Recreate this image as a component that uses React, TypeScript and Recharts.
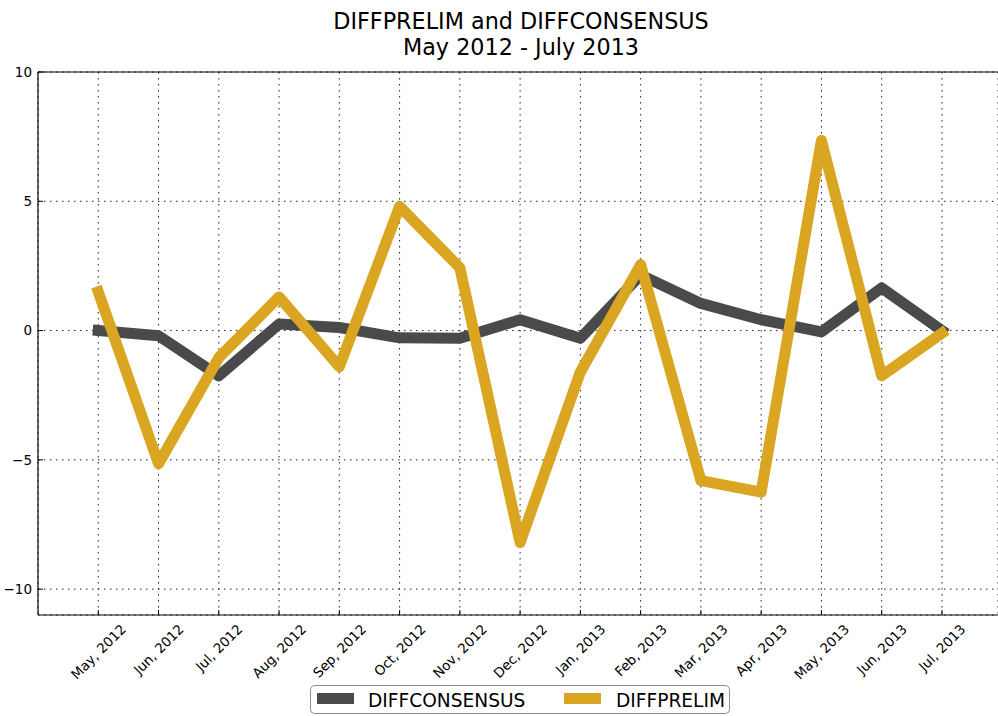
import { CartesianGrid, Line, LineChart, XAxis, YAxis } from "recharts";

const months = [
  "May, 2012", "Jun, 2012", "Jul, 2012", "Aug, 2012", "Sep, 2012",
  "Oct, 2012", "Nov, 2012", "Dec, 2012", "Jan, 2013", "Feb, 2013",
  "Mar, 2013", "Apr, 2013", "May, 2013", "Jun, 2013", "Jul, 2013",
];
const diffConsensus = [0.0, -0.2, -1.75, 0.25, 0.12, -0.28, -0.3, 0.42, -0.3, 2.15, 1.05, 0.42, -0.05, 1.65, 0.0];
const diffPrelim = [1.5, -5.15, -1.05, 1.3, -1.4, 4.8, 2.43, -8.2, -1.6, 2.55, -5.8, -6.25, 7.35, -1.75, -0.1];
const yTicks = [-10, -5, 0, 5, 10];

const data = months.map((m, i) => ({
  idx: i,
  month: m,
  DIFFCONSENSUS: diffConsensus[i],
  DIFFPRELIM: diffPrelim[i],
}));

const FONT = "'DejaVu Sans', sans-serif";
const DARK = "#4a4a4a";
const GOLD = "#daa520";
const TICK_FS = 13.5;

let ctx: CanvasRenderingContext2D | null = null;
function textWidth(s: string, size: number) {
  if (!ctx) ctx = document.createElement("canvas").getContext("2d");
  if (!ctx) return s.length * size * 0.6;
  ctx.font = `${size}px 'DejaVu Sans'`;
  return ctx.measureText(s).width;
}

// matplotlib style rotated label: bbox centered on the tick, top at axis + pad
function MonthTick(props: any) {
  const { x, payload } = props;
  const label = months[payload.value] ?? "";
  const w = textWidth(label, TICK_FS);
  const h = TICK_FS * 1.16;
  const bh = (w + h) * Math.SQRT1_2;
  const cx = x;
  const cy = 621 + bh / 2;
  return (
    <text
      x={cx}
      y={cy}
      textAnchor="middle"
      dominantBaseline="central"
      fontSize={TICK_FS}
      fontFamily={FONT}
      fill="#000"
      transform={`rotate(-45 ${cx} ${cy})`}
    >
      {label}
    </text>
  );
}

const fmtY = (v: number) => (v < 0 ? "\u2212" + Math.abs(v) : String(v));

export default function App() {
  return (
    <div style={{ position: "absolute", left: 0, top: 0, width: 998, height: 716, background: "#fff" }}>
      <LineChart
        width={998}
        height={716}
        data={data}
        margin={{ top: 71, right: 0, left: 0, bottom: 31 }}
      >
        <CartesianGrid stroke="#222" strokeDasharray="1.5 4.5" strokeWidth={1} />
        <XAxis
          dataKey="idx"
          type="number"
          domain={[-1, 14.93]}
          ticks={months.map((_, i) => i)}
          interval={0}
          height={70}
          axisLine={{ stroke: "#000", strokeWidth: 1.2 }}
          tickLine={{ stroke: "#000" }}
          tickSize={-5}
          tickMargin={8}
          tick={<MonthTick />}
          allowDataOverflow
        />
        <XAxis
          xAxisId="top"
          dataKey="idx"
          type="number"
          orientation="top"
          domain={[-1, 14.93]}
          ticks={months.map((_, i) => i)}
          interval={0}
          height={1}
          axisLine={{ stroke: "#000", strokeWidth: 1.2 }}
          tickLine={{ stroke: "#000" }}
          tickSize={-5}
          tick={false}
          allowDataOverflow
        />
        <YAxis
          type="number"
          domain={[-11, 10]}
          ticks={yTicks}
          interval={0}
          width={38}
          axisLine={{ stroke: "#000", strokeWidth: 1.2 }}
          tickLine={{ stroke: "#000" }}
          tickSize={-5}
          tickMargin={11}
          tickFormatter={fmtY}
          tick={{ fontSize: TICK_FS, fontFamily: FONT, fill: "#000" }}
          allowDataOverflow
        />
        <Line
          type="linear"
          dataKey="DIFFCONSENSUS"
          stroke={DARK}
          strokeWidth={11}
          strokeLinejoin="round"
          strokeLinecap="square"
          dot={false}
          activeDot={false}
          isAnimationActive={false}
        />
        <Line
          type="linear"
          dataKey="DIFFPRELIM"
          stroke={GOLD}
          strokeWidth={11}
          strokeLinejoin="round"
          strokeLinecap="square"
          dot={false}
          activeDot={false}
          isAnimationActive={false}
        />
      </LineChart>
      <svg
        width={998}
        height={716}
        style={{ position: "absolute", left: 0, top: 0, pointerEvents: "none" }}
      >
        <text x={521} y={29} textAnchor="middle" fontSize={22.3} fontFamily={FONT} fill="#000">
          DIFFPRELIM and DIFFCONSENSUS
        </text>
        <text x={521} y={55} textAnchor="middle" fontSize={22.3} fontFamily={FONT} fill="#000">
          May 2012 - July 2013
        </text>
        <rect x={310.5} y={685.5} width={419} height={28} rx={4} fill="#fff" stroke="#8c8c8c" strokeWidth={1} />
        <rect x={317} y={693} width={37} height={11} fill={DARK} />
        <text x={368} y={707} fontSize={18.6} fontFamily={FONT} fill="#000">DIFFCONSENSUS</text>
        <rect x={564} y={693} width={37} height={11} fill={GOLD} />
        <text x={616} y={707} fontSize={18.6} fontFamily={FONT} fill="#000">DIFFPRELIM</text>
      </svg>
    </div>
  );
}
